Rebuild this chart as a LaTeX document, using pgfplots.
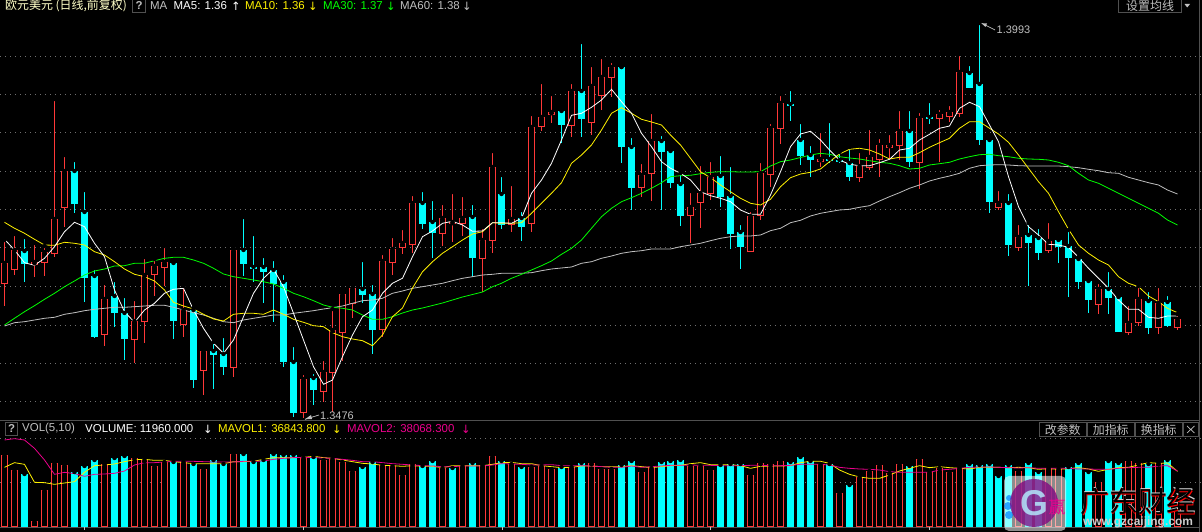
\documentclass[border=0pt]{standalone}
\usepackage{fontspec}
\usepackage{pgfplots}
\usepackage{pgfplotstable}
\pgfplotsset{compat=1.18}
\setmainfont{Liberation Sans}
\newfontfamily\cjk{Noto Sans CJK SC}
\newfontfamily\sym{DejaVu Sans}
\definecolor{kred}{HTML}{FF3838}
\definecolor{kcyan}{HTML}{00FFFF}
\definecolor{kgrey}{HTML}{C0C0C0}
\definecolor{kline}{HTML}{505050}
\definecolor{kgrid}{HTML}{707070}
\definecolor{ktitle}{HTML}{FFFFC8}

% all y values are screen rows (price rows in px, volume rows in 1/3 px)
% candles: day, high, low, body top, body bottom
\pgfplotstableread{
i hi lo top bot
0 240 306 263.3 282.7
1 234 275 250 269.3
3 243 276.7 262.3 264
4 245.7 276 252.3 262.3
5 99 257.3 219.3 253.3
6 155 226.7 171.3 207.3
10 283.3 345.7 299.3 333.7
13 299 363.3 320.7 339.3
14 256.7 342.7 275 320.7
15 259.3 296 266 273.7
16 246 286 262.3 267.3
18 286 336.7 310 323.7
20 348.3 395 351.3 369.7
23 248 376.7 250 366.7
30 373.3 418.3 379.3 411.7
32 359.3 401.7 372.3 390.7
33 309.3 411.7 330.3 372.3
34 291.7 361 294.3 331.7
35 284 317.7 288.3 303.3
38 253.3 336.7 261.3 329.3
39 236 275 249.3 262.3
40 228.3 254 243.3 247.3
41 194 252.7 203.3 244.3
44 203 245.7 218.3 233.3
45 192.3 241.7 221.7 223.3
46 195 236 218.3 222.7
48 226.7 292 240.3 258.3
49 151 252.7 167.3 240.3
51 184 231.7 219.3 224.3
53 114 231.7 127.3 223.3
54 82 130.7 116.7 125.7
55 94 123.3 112 113.5
57 82 136.7 91.3 124.7
59 65 135 86.3 121.7
60 56.7 110 77.3 95.3
61 61 97 67.3 77.3
64 162 196.7 175.3 187.3
65 112.3 200.7 141.3 173.3
69 191 243.3 207.3 215.3
70 164.3 227.7 193.3 202.3
71 160 200 177 193.3
75 210 251.3 216.3 251.3
76 161 220 173.3 215.3
77 122.3 186.7 128.3 174.3
78 94.3 144 103.3 128.3
82 131 166.7 159.3 160.8
86 151 181.7 166 176.7
87 128 170 157.3 166.7
88 137 176.7 145.3 158.7
89 132.7 159.3 145.3 146.8
90 109 160 131.3 144.7
92 111 189 118.3 161.7
94 108.3 162 114.3 117.7
95 104 122.3 112.3 115.7
96 54 116.7 72.3 112.7
100 189.3 210 203.3 207
102 223 250.7 237.3 246.7
105 221 252.7 240.7 250.3
110 282.3 314 289.3 304.3
113 304 334.7 323.3 331.7
114 286 326 299.3 322.3
116 286 334 303.3 326.7
118 314 330 319.3 326.7
}\redc
\pgfplotstableread{
i hi lo top bot
2 236.7 281.7 251 262.7
7 160 212.7 171.3 202.7
8 190 301.7 212 276.7
9 268.3 337.7 276 336
11 280 326.7 296 312
12 296 360 313 337.7
17 260 339 263 319.7
19 308 387.7 310 379
21 341.7 389 351 353.7
22 336 375 354 365.7
24 217.3 276 250 262.7
25 234 281.7 266.7 268
26 256 302.7 267.3 270.7
27 259.3 321.7 270 282.7
28 273.3 366.7 282.3 361
29 345 416.7 362.3 411.7
31 371.7 405 378 388.7
36 260 303.3 289 294
37 283.3 354 294 329
42 190 229 203 222.7
43 199 257.7 222 231.7
47 203 277.3 217 256.7
50 175 229 194 224.3
52 210 241 218 225.7
56 109 143.3 111 124
58 42.3 136.7 91 117.7
62 67 162.7 67 145.7
63 136 210 147 186.7
66 134 210 141 150.7
67 148.3 187.7 151 181.7
68 173.3 225.7 184 214.7
72 154 206.7 176 195.7
73 165 248.7 196 232.7
74 223.3 268.7 232 245.7
79 89.3 121 103.7 105
80 121.7 165 140 155.3
81 144 176.7 155 158.7
83 121 163 158.7 160
84 151.7 163 160 161.3
85 146.7 181 163.3 175.7
91 108.7 166.7 131 161
93 101.3 124 116.7 118
97 64 86.7 73 86.7
98 23.3 145 84 138.7
99 136 212.7 140 200.7
101 192.3 256 203 243.7
103 223.3 286 235 241.7
104 227.3 260 238 251.7
106 236 262.7 240 245.7
107 230 296.7 246 256.7
108 256.7 289.3 259.3 280.7
109 279.3 312.7 281 298.7
111 270 314 288.7 296.7
112 294 331.7 296.7 330.7
115 290 334 301 326.7
117 294 326.7 302 324.7
}\cyanc

% moving averages on the price pane
\pgfplotstableread{
i ma5 ma10 ma30 ma60
0 239.3 222.3 325 326
1 250 228.3 318.3 322.7
2 262.7 233.3 311.7 321.7
3 265.3 239.3 305.7 320
4 258.3 245 299.3 318.3
5 246.7 245.3 293.3 317.3
6 231.7 242.3 286.7 314.3
7 222.3 243.3 281 312.7
8 226.7 245 275 310.7
9 243.3 251.7 271 309.3
10 256.7 255 269 308.3
11 290 261.7 266 307.3
12 311.7 269 265.7 307.3
13 322.3 274.3 263.3 306.7
14 310 276.7 263.3 306
15 303.3 281 260.7 305.3
16 293.3 290 258.3 305.3
17 289.3 302.3 257.3 307.3
18 288.3 306 257.3 310
19 310 309 260 312.7
20 328.3 314.3 263.3 315
21 343.3 319 268.3 318.3
22 353.3 321 274 321.7
23 340 314.3 276.7 322.7
24 316.7 313.3 278.3 320
25 293.3 313.3 280 318.3
26 278.3 314.3 281.7 316.7
27 269 310 284 315
28 286.7 314.3 288.3 315
29 313.3 319.3 293.3 313.3
30 340 322.3 296.7 312
31 366.7 325.7 300.7 310.7
32 384.3 326.7 305 309
33 380 332.7 307.3 307.7
34 356.7 336.7 308.3 306
35 335 339 310 303.3
36 316.7 340.7 315 300.7
37 310 345.7 319.3 300
38 293.3 335 319.3 298.3
39 283.3 316.7 316.7 293.3
40 278.3 308 313 291
41 256.7 288 310 288.3
42 236.7 271.7 308 286.7
43 231 261.7 305.5 285
44 223.3 253.3 303 283.3
45 221.3 246.7 300 280.7
46 225 240 297 278.3
47 231.3 234 294.5 276.7
48 231 231.7 292 275
49 222.7 222.7 286.7 274.3
50 222.7 223.3 283.3 273.3
51 223.3 223.3 278.3 273.3
52 218.3 222.7 274.3 273.3
53 193.3 213.3 270 272.7
54 180 203.3 265.7 270.7
55 163.3 193.3 261 269
56 140 182.7 254.3 268
57 115.3 163.3 248.3 267
58 113.3 155 240 263.3
59 107.3 145 228.3 261.7
60 100 130 216.7 258.3
61 89.3 113.3 208.3 256
62 101.7 107.7 201.7 253.3
63 113.3 113.3 197.7 251.7
64 133.3 119.3 193.3 250.7
65 146.7 122 188.3 249
66 161.7 125 182.7 249
67 168.3 135 176.7 249
68 173.3 145 175.7 246.7
69 180 158.3 175.3 245
70 191.7 171.7 173.7 243.3
71 195.7 177.7 172.3 240.7
72 198.3 185 171.7 238.3
73 201.7 191.7 171.7 236.7
74 210 198.3 172 236
75 214.3 203.3 172 236
76 214.3 205 171.7 235
77 195 199.3 166 230.7
78 171.7 186.7 161.7 228.3
79 146.7 177.7 160 222.7
80 134 174 157.5 220.3
81 131.3 172.3 155 216
82 140 169 153.3 213.3
83 150 161.7 154.3 211.7
84 160 154 156.7 210
85 164.3 149.3 158 209.3
86 165.7 148.3 159 207.3
87 165.7 150 160.7 205.7
88 162.7 154 162.3 201
89 159.3 159 163.3 196.7
90 150 157.3 165.7 192.7
91 148.3 157.3 169 188.3
92 140 152.7 168.3 185
93 134.3 147.3 165 181
94 128.3 142.7 163.7 178.3
95 126 138.3 162.3 176
96 108.3 128.3 159 173.3
97 102.3 121.7 156.7 168.3
98 106.7 121.7 154.7 165.7
99 125 128.3 154.3 165
100 141.7 134 155.7 164.7
101 176.7 142.3 156.7 165
102 206.7 155 158.3 165.7
103 226.7 168.3 159 166
104 235 181.7 159.3 166
105 244.3 193.3 160 166
106 245 211.7 162.3 166
107 247.3 229.3 165.7 166.7
108 257.3 245 173.3 167.7
109 268.3 253.3 180 169.3
110 278.3 260 183.3 170.7
111 288.3 265 188.3 172.7
112 300 276.7 193.3 173.3
113 309.3 283.3 198.3 177.3
114 309.3 286.7 203.3 180
115 317.3 296 208.3 182.7
116 318.3 301.7 213.3 185
117 316 308.3 220 190
118 316 312.7 225 194
}\malines

% volume bars: day, top row
\pgfplotstableread{
i z
0 120
1 166
3 319
4 226
5 145
6 151
10 148
13 130
14 134
15 153
16 140
18 142
20 163
23 118
30 129
32 136
33 133
34 141
35 169
38 150
39 152
40 181
41 148
44 160
46 153
48 151
49 124
51 148
53 157
54 153
55 163
57 157
59 145
60 163
61 163
64 172
65 160
69 152
70 152
71 166
75 181
76 145
77 148
78 139
82 147
84 235
86 187
87 167
88 151
89 175
90 148
92 133
93 172
94 160
95 172
96 160
102 169
105 160
106 162
110 202
113 139
114 145
116 143
118 282
}\redv
\pgfplotstableread{
i z
2 177
7 172
8 153
9 135
11 129
12 123
17 140
19 147
21 135
22 147
24 117
25 140
26 135
27 117
28 120
29 120
31 127
36 156
37 140
42 152
43 138
45 159
47 144
50 138
52 156
56 155
58 144
62 150
63 138
66 141
67 138
68 135
72 150
73 147
74 148
79 141
80 126
81 139
83 148
85 210
91 153
97 147
98 150
99 147
100 183
101 150
103 144
104 171
107 156
108 144
109 171
111 138
112 144
115 148
117 135
}\cyanv
\pgfplotstableread{
i v1 v2
0 157 75
1 143 71
2 148 75
3 202 100
4 203 135
5 208 178
6 204 172
7 200 176
8 172 184
9 152 178
10 150 177
11 147 175
12 140 168
13 134 150
14 133 143
15 136 143
16 136 141
17 140 139
18 143 139
19 146 139
20 146 140
21 146 141
22 146 141
23 140 141
24 140 139
25 139 139
26 133 138
27 128 133
28 128 130
29 128 128
30 127 127
31 124 128
32 128 129
33 130 130
34 135 133
35 140 136
36 145 140
37 147 140
38 151 143
39 152 146
40 154 148
41 152 150
42 154 152
43 154 153
44 158 155
45 152 155
46 152 153
47 152 153
48 152 153
49 148 150
50 143 146
51 142 147
52 146 148
53 146 150
54 152 150
55 155 149
56 158 152
57 157 152
58 153 152
59 153 153
60 155 155
61 155 157
62 155 157
63 152 153
64 155 157
65 158 155
66 155 153
67 152 151
68 151 151
69 146 150
70 143 151
71 149 151
72 149 152
73 149 152
74 152 152
75 160 151
76 154 151
77 153 152
78 153 152
79 152 151
80 143 148
81 139 148
82 139 148
83 145 150
84 165 157
85 178 160
86 186 162
87 190 163
88 190 165
89 180 170
90 168 172
91 160 172
92 152 172
93 158 172
94 155 165
95 158 163
96 160 160
97 162 157
98 157 156
99 157 156
100 157 157
101 158 158
102 157 159
103 158 158
104 163 160
105 161 160
106 163 160
107 161 160
108 158 162
109 162 162
110 169 163
111 163 163
112 158 160
113 157 158
114 150 157
115 143 157
116 145 153
117 144 152
118 169 168
}\vollines

% day index to pixel column: the terminal steps 10 px, dropping one px about every 17 days
\newcommand{\dayx}{4.5+10*\thisrow{i}-floor((\thisrow{i}+0.5)*0.06)}

\pgfplotsset{
  seg/.style 2 args={only marks, mark=none, forget plot,
    error bars/.cd, y dir=plus, y explicit, error mark=none,
    error bar style={draw=#1, line width=#2, solid}},
  pane/.style={scale only axis, width=1202bp,
    xmin=0, xmax=1202, y dir=reverse,
    axis line style={draw=none}, tick style={draw=none},
    xticklabels={}, yticklabels={}, xtick=\empty, ymajorgrids,
    grid style={kgrid, line width=0.8bp, dash pattern=on 1bp off 4bp}},
}

\begin{document}
\begin{tikzpicture}[x=1bp,y=1bp]
\path[use as bounding box] (0,0) rectangle (1202,532);
\fill[black] (0,0) rectangle (1202,532);

% price pane
\begin{axis}[pane, at={(0bp,112bp)}, anchor=south west, height=420bp,
    ymin=0, ymax=420, ytick={56.5,94.5,132.5,171.5,209.5,247.5,286.5,325.5,363.5,401.5}]
\addplot[seg={kred}{1.2bp}] table[x expr=\dayx,y expr=round(\thisrow{hi}),y error plus expr=round(\thisrow{lo})-round(\thisrow{hi}),y error minus expr=0] {\redc};
\addplot[seg={kcyan}{1.2bp}] table[x expr=\dayx,y expr=round(\thisrow{hi}),y error plus expr=round(\thisrow{lo})-round(\thisrow{hi}),y error minus expr=0] {\cyanc};
\addplot[seg={kred}{7.2bp}] table[x expr=\dayx,y expr=round(\thisrow{top}),y error plus expr=round(\thisrow{bot})-round(\thisrow{top})+1,y error minus expr=0] {\redc};
\addplot[seg={black}{4.8bp}] table[x expr=\dayx,y expr=round(\thisrow{top})+1.2,y error plus expr={max(round(\thisrow{bot})-round(\thisrow{top})-1.4,0)},y error minus expr=0] {\redc};
\addplot[seg={kcyan}{7bp}] table[x expr=\dayx,y expr=round(\thisrow{top}),y error plus expr=round(\thisrow{bot})-round(\thisrow{top})+1,y error minus expr=0] {\cyanc};
\addplot[kgrey, line width=0.8bp] table[x expr=\dayx,y=ma60] {\malines};
\addplot[green, line width=0.8bp] table[x expr=\dayx,y=ma30] {\malines};
\addplot[yellow, line width=0.8bp] table[x expr=\dayx,y=ma10] {\malines};
\addplot[white, line width=0.8bp] table[x expr=\dayx,y=ma5] {\malines};
\end{axis}

% volume pane
\begin{axis}[pane, at={(0bp,0bp)}, anchor=south west, height=112bp,
    ymin=15, ymax=351, ytick={70.5,202.5}]
\addplot[seg={kcyan}{7bp}] table[x expr=\dayx,y expr=3*round(\thisrow{z}/3),y error plus expr=336-3*round(\thisrow{z}/3),y error minus expr=0] {\cyanv};
\addplot[seg={kred}{7.2bp}] table[x expr=\dayx,y expr=3*round(\thisrow{z}/3),y error plus expr=336-3*round(\thisrow{z}/3),y error minus expr=0] {\redv};
\addplot[seg={black}{4.8bp}] table[x expr=\dayx,y expr=3*round(\thisrow{z}/3)+3.6,y error plus expr=329-3*round(\thisrow{z}/3),y error minus expr=0] {\redv};
\addplot[yellow, line width=0.8bp] table[x expr=\dayx,y=v1] {\vollines};
\addplot[magenta, line width=0.8bp] table[x expr=\dayx,y=v2] {\vollines};
\end{axis}

% frame lines, rows counted from the top
\draw[kline, line width=1bp] (0,111.5) -- (1199,111.5);
\draw[kline, line width=1bp] (0,4.5) -- (1199,4.5);
\draw[kline, line width=1bp] (1199.5,0) -- (1199.5,532);
\foreach \tx in {84.5,303.5,502.5,710.5,929.5} \draw[kgrey, line width=1bp] (\tx,5) -- (\tx,2);

% high and low pointers
\draw[kgrey, line width=0.7bp] (981.7,508.7) -- (995,502);
\fill[kgrey] (981.7,508.7) -- (987,508.5) -- (985.5,505) -- cycle;
\node[anchor=west, inner sep=0pt, text=kgrey, font=\fontsize{11}{11}\selectfont] at (996.5,502.5) {1.3993};
\draw[kgrey, line width=0.7bp] (305,112.7) -- (319,117);
\fill[kgrey] (305,112.7) -- (311,117) -- (312,113) -- cycle;
\node[anchor=west, inner sep=0pt, text=kgrey, font=\fontsize{11}{11}\selectfont] at (320,116.5) {1.3476};

% header of the price pane
\begin{scope}[every node/.style={anchor=west, inner sep=0pt, font=\fontsize{11.5}{12}\selectfont}]
\node[text=ktitle] at (5,526) {\cjk\fontsize{12}{12}\selectfont 欧元美元 (日线,前复权)};
\draw[kline, line width=1bp] (132.5,519.5) rectangle (145,532);
\node[text=kgrey] at (135.5,526) {\textbf{?}};
\node[text=kgrey] at (150,526) {MA};
\node[text=white] at (173.5,526) {MA5: 1.36};
\node[text=white] at (231,526) {\sym↑};
\node[text=yellow] at (245,526) {MA10: 1.36};
\node[text=yellow] at (308,526) {\sym↓};
\node[text=green] at (323,526) {MA30: 1.37};
\node[text=green] at (386,526) {\sym↓};
\node[text=kgrey] at (400,526) {MA60: 1.38};
\node[text=kgrey] at (462,526) {\sym↓};
\draw[kline, line width=1bp] (1118,519.5) rectangle (1181.5,533);
\node[text=kgrey] at (1126,526) {\cjk\fontsize{12}{12}\selectfont 设置均线};
\fill[kgrey] (1184.5,528) -- (1190,528) -- (1187.2,524.5) -- cycle;

% header of the volume pane
\draw[kline, line width=1bp] (5.5,96.5) rectangle (17,109);
\node[text=kgrey] at (8,103) {\textbf{?}};
\node[text=kgrey] at (22,103) {VOL(5,10)};
\node[text=white] at (85,103) {VOLUME: 11960.000};
\node[text=white] at (203,103) {\sym↓};
\node[text=yellow] at (218,103) {MAVOL1: 36843.800};
\node[text=yellow] at (332,103) {\sym↓};
\node[text=magenta] at (347,103) {MAVOL2: 38068.300};
\node[text=magenta] at (461,103) {\sym↓};
\foreach \bx/\bw/\bt in {1039.5/46.5/改参数,1087.5/46.5/加指标,1135.5/46.5/换指标}{
  \draw[kline, line width=1bp] (\bx,95) rectangle (\bx+\bw,109.5);
  \node[text=kgrey, anchor=center] at (\bx+\bw/2,102.5) {\cjk\fontsize{12}{12}\selectfont \bt};
}
\draw[kline, line width=1bp] (1183.5,95) rectangle (1198,109.5);
\draw[kgrey, line width=0.7bp] (1187,99) -- (1194.5,106) (1187,106) -- (1194.5,99);
\end{scope}

% watermark
\fill[white, opacity=0.55, rounded corners=5pt] (1004,1) rectangle (1066,56);
\fill[blue!50!cyan, opacity=0.7] (1009,34) circle (3) (1008,26) circle (4) (1009,17) circle (4);
\fill[violet, opacity=0.75] (1034,29) circle (24);
\node[text=cyan!30!white, opacity=0.85, font=\bfseries\fontsize{36}{36}\selectfont] at (1034,29) {G};
\node[text=magenta, font=\cjk\fontsize{17}{17}\selectfont] at (1057,25) {赢};
\begin{scope}[every node/.style={anchor=center, inner sep=0pt, font=\cjk\fontsize{29}{29}\selectfont}]
\node[text=kgrey!70] at (1138.7,31) {广东财经};
\node[text=red] at (1138.8,29.7) {广东财经};
\node[text=black] at (1138,30.5) {广东财经};
\end{scope}
\node[anchor=center, inner sep=0pt, text=kgrey!80, font=\bfseries\fontsize{12}{12}\selectfont] at (1138,10) {www.gzcaijing.com};
\end{tikzpicture}
\end{document}
